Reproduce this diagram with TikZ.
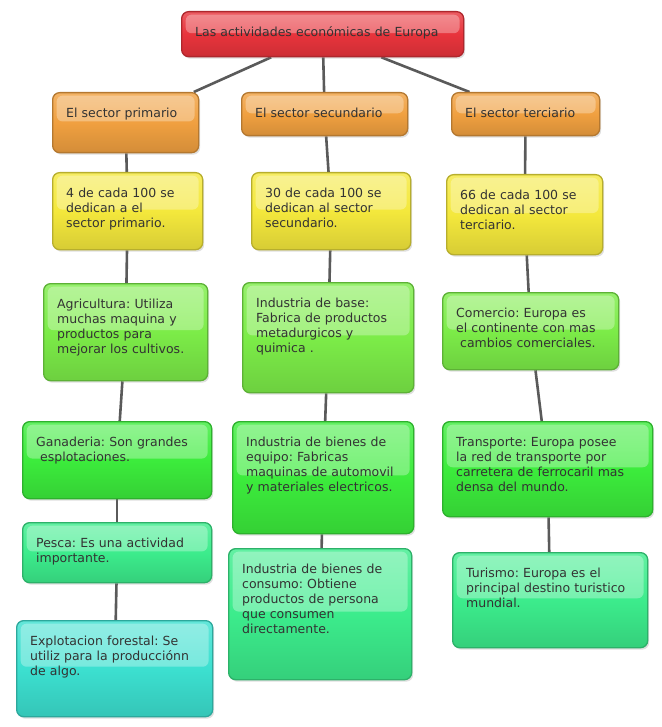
\documentclass[tikz,border=0pt]{standalone}
\usepackage{fontspec}
\setmainfont{DejaVu Sans}
\usetikzlibrary{shadows,calc,backgrounds}
\frenchspacing
\definecolor{cherry}{RGB}{232,52,60}
\definecolor{tangerine}{RGB}{240,160,64}
\definecolor{lemon}{RGB}{244,232,60}
\definecolor{lime}{RGB}{124,236,72}
\definecolor{grass}{RGB}{60,236,60}
\definecolor{mint}{RGB}{60,236,140}
\definecolor{lagoon}{RGB}{60,224,208}
\definecolor{ink}{RGB}{51,51,51}
\definecolor{wire}{RGB}{90,90,90}
\tikzset{
  cbox/.style={draw=#1!75!black,line width=1.3pt,rounded corners=7pt,
    top color=#1!80!white,bottom color=#1!88!black,middle color=#1,
    anchor=north west,inner xsep=13.5pt,inner ysep=0pt,align=left,
    text height=25pt,text=ink,font=\fontsize{12.5}{15}\selectfont,
    drop shadow={opacity=0.25,shadow xshift=1.5pt,shadow yshift=-2pt},
    path picture={\fill[white,opacity=0.3,rounded corners=6pt]
      ([xshift=4pt,yshift=-3pt]path picture bounding box.north west) rectangle
      ([xshift=-4pt]$(path picture bounding box.north east)!0.48!(path picture bounding box.south east)$);}},
  cbox/.default=lime,
  boxsize/.code 2 args={\pgfmathsetlengthmacro\boxtw{#1-27pt}%
    \pgfmathsetlengthmacro\boxtd{#2-25pt}%
    \tikzset{text width=\boxtw,text depth=\boxtd}},
  link/.style={draw=wire,line width=2.6pt},
}
\begin{document}
\begin{tikzpicture}[x=1pt,y=-1pt]
  \useasboundingbox (0,0) rectangle (661,727);
  \node[cbox=cherry,boxsize={282pt}{45pt}] (title) at (181,11) {Las actividades económicas de Europa};
  % sectores
  \node[cbox=tangerine,boxsize={146pt}{60pt}] (prim) at (52,92) {El sector primario};
  \node[cbox=tangerine,boxsize={166pt}{43pt}] (sec) at (241,92) {El sector secundario};
  \node[cbox=tangerine,boxsize={148pt}{43pt}] (ter) at (451,92) {El sector terciario};
  % porcentajes
  \node[cbox=lemon,boxsize={150pt}{77pt}] (pct1) at (52,172) {4 de cada 100 se\\dedican a el\\sector primario.};
  \node[cbox=lemon,boxsize={159pt}{77pt}] (pct2) at (251,172) {30 de cada 100 se\\dedican al sector\\secundario.};
  \node[cbox=lemon,boxsize={156pt}{80pt}] (pct3) at (446,174) {66 de cada 100 se\\dedican al sector\\terciario.};
  % primario
  \node[cbox=lime,boxsize={164pt}{97pt}] (agri) at (43,283) {Agricultura: Utiliza\\muchas maquina y\\productos para\\mejorar los cultivos.};
  \node[cbox=grass,boxsize={189pt}{77pt}] (gana) at (22,421) {Ganaderia: Son grandes\\\hspace*{0.32em}esplotaciones.};
  \node[cbox=mint,boxsize={189pt}{60pt}] (pesca) at (22,522) {Pesca: Es una actividad\\importante.};
  \node[cbox=lagoon,boxsize={196pt}{96pt}] (fore) at (16,620) {Explotacion forestal: Se\\utiliz para la producciónn\\de algo.};
  % secundario
  \node[cbox=lime,boxsize={171pt}{110pt}] (base) at (242,282) {Industria de base:\\Fabrica de productos\\metadurgicos y\\quimica .};
  \node[cbox=grass,boxsize={181pt}{112pt}] (equipo) at (232,421) {Industria de bienes de\\equipo: Fabricas\\maquinas de automovil\\y materiales electricos.};
  \node[cbox=mint,boxsize={183pt}{131pt}] (consumo) at (228,548) {Industria de bienes de\\consumo: Obtiene\\productos de persona\\que consumen\\directamente.};
  % terciario
  \node[cbox=lime,boxsize={176pt}{77pt}] (comer) at (442,292) {Comercio: Europa es\\el continente con mas\\\hspace*{0.32em}cambios comerciales.};
  \node[cbox=grass,boxsize={210pt}{95pt}] (transp) at (442,421) {Transporte: Europa posee\\la red de transporte por\\carretera de ferrocaril mas\\densa del mundo.};
  \node[cbox=mint,boxsize={195pt}{95pt}] (turismo) at (452,552) {Turismo: Europa es el\\principal destino turistico\\mundial.};
  \begin{scope}[on background layer]
    \draw[link] (title) -- (prim); \draw[link] (title) -- (sec); \draw[link] (title) -- (ter);
    \draw[link] (prim) -- (pct1); \draw[link] (pct1) -- (agri); \draw[link] (agri) -- (gana);
    \draw[link] (gana) -- (pesca); \draw[link] (pesca) -- (fore);
    \draw[link] (sec) -- (pct2); \draw[link] (pct2) -- (base); \draw[link] (base) -- (equipo);
    \draw[link] (equipo) -- (consumo);
    \draw[link] (ter) -- (pct3); \draw[link] (pct3) -- (comer); \draw[link] (comer) -- (transp);
    \draw[link] (transp) -- (turismo);
  \end{scope}
\end{tikzpicture}
\end{document}
